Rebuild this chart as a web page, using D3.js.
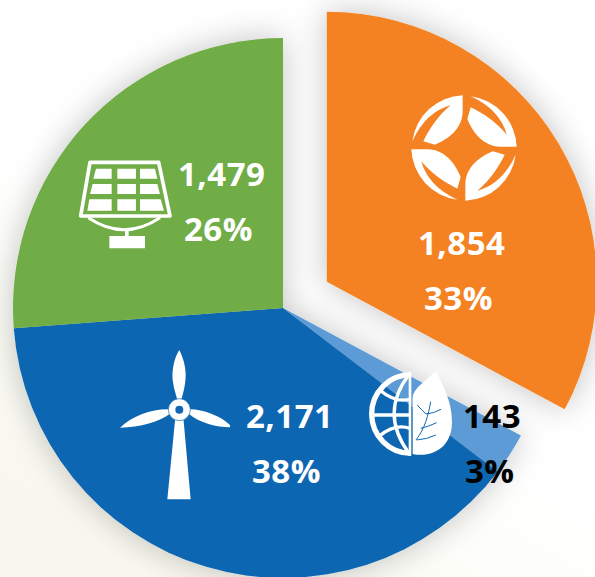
<!DOCTYPE html>
<html>
<head>
<meta charset="utf-8">
<style>html,body{margin:0;padding:0;background:#fff;overflow:hidden}svg{display:block}</style>
<script src="https://cdn.jsdelivr.net/npm/d3@7/dist/d3.min.js"></script>
</head>
<body>
<svg id="c" width="595" height="577"></svg>
<script>
// Data
const categories = ["Other renewables A", "Biomass", "Wind", "Solar"];
const values = [1854, 143, 2171, 1479];
const percents = ["33%", "3%", "38%", "26%"];
const colors = ["#f58220", "#5b9bd5", "#1166b1", "#70ad47"];
const explode = [51, 0, 0, 0];
const labelColors = ["#fff", "#000", "#fff", "#fff"];
const labelX = [418, 463, 246, 178];
const pctX = [424, 465, 252, 184];
const labelY = [255, 428, 428, 186];
const pctY = [310, 483, 483, 241];

const W = 595, H = 577, cx = 283, cy = 308, R = 270;
const svg = d3.select("#c");
const defs = svg.append("defs");

const bg = defs.append("linearGradient").attr("id", "bg")
  .attr("x1", 0.55).attr("y1", 0.6).attr("x2", 0.3).attr("y2", 1);
bg.append("stop").attr("offset", 0).attr("stop-color", "#ffffff");
bg.append("stop").attr("offset", 0.4).attr("stop-color", "#fdfdf9");
bg.append("stop").attr("offset", 1).attr("stop-color", "#f8f8ef");

const f = defs.append("filter").attr("id", "shadow")
  .attr("filterUnits", "userSpaceOnUse")
  .attr("x", -cx - 100).attr("y", -cy - 100).attr("width", W + 200).attr("height", H + 200);
f.append("feGaussianBlur").attr("in", "SourceAlpha").attr("stdDeviation", 16).attr("result", "b");
f.append("feFlood").attr("flood-color", "#000").attr("flood-opacity", 0.24);
f.append("feComposite").attr("in2", "b").attr("operator", "in").attr("result", "s");
const m = f.append("feMerge");
m.append("feMergeNode").attr("in", "s");
m.append("feMergeNode").attr("in", "SourceGraphic");

svg.append("rect").attr("width", W).attr("height", H).attr("fill", "#fff");
svg.append("rect").attr("width", W).attr("height", H).attr("fill", "url(#bg)");

const pie = d3.pie().sort(null)(values);
const arc = d3.arc().innerRadius(0).outerRadius(R);

svg.append("g").attr("filter", "url(#shadow)")
  .attr("transform", `translate(${cx},${cy})`)
  .selectAll("path").data(pie).join("path")
  .attr("d", arc)
  .attr("fill", (d, i) => colors[i])
  .attr("transform", (d, i) => {
    const a = (d.startAngle + d.endAngle) / 2;
    return `translate(${explode[i] * Math.sin(a)},${-explode[i] * Math.cos(a)})`;
  });

// Icons (drawn in crop units, 3 units = 1 px)
const iconOrange = svg.append("g").attr("transform", "translate(464,148) scale(0.3333)");
[0, 90, 180, 270].forEach(r => iconOrange.append("path")
  .attr("transform", `rotate(${r})`).attr("fill", "#fff")
  .attr("d", "M-4,-158 A158,158 0 0 0 -155,-20 Q-115,-108 -40,-128 C-80,-95 -105,-55 -122,-20 L-87,-10 C-50,-25 -5,-55 -4,-110 Z"));

const solar = svg.append("g").attr("transform", "translate(60,140) scale(0.3333)");
solar.append("path").attr("fill", "none").attr("stroke", "#fff").attr("stroke-width", 11).attr("stroke-linejoin", "round")
  .attr("d", "M90,67 L296,67 L330,228 L62,228 Z");
solar.append("path").attr("fill", "#fff").attr("d",
  "M108,86H155V116H100Z M172,86H228V116H172Z M240,86H285L292,116H240Z " +
  "M98,132H155V162H90Z M172,132H228V162H172Z M240,132H292L300,162H240Z " +
  "M88,178H155V212H82Z M172,178H228V212H172Z M240,178H302L312,212H240Z");
solar.append("path").attr("fill", "none").attr("stroke", "#fff").attr("stroke-width", 9)
  .attr("d", "M85,233 Q192,305 300,233");
solar.append("path").attr("fill", "#fff").attr("d", "M195,268H206V290H195Z M148,288H255V325H148Z");

const wind = svg.append("g").attr("transform", "translate(100,340) scale(0.3333)");
wind.append("path").attr("fill", "#fff").attr("d",
  "M226,232 L250,232 L272,478 L202,478 Z " +
  "M238,30 C225,50 215,85 218,120 C222,150 230,170 233,182 L243,182 C250,160 258,130 257,100 C256,70 245,45 238,30 Z " +
  "M264,208 C300,205 360,225 390,255 L390,262 C350,262 300,250 264,220 Z " +
  "M212,208 C160,205 100,225 60,263 C120,263 180,245 212,220 Z");
wind.append("circle").attr("cx", 238).attr("cy", 209).attr("r", 33).attr("fill", "#fff").attr("stroke", "#1166b1").attr("stroke-width", 2);
wind.append("circle").attr("cx", 238).attr("cy", 209).attr("r", 12).attr("fill", "#1166b1");

const leaf = svg.append("g").attr("transform", "translate(360,360) scale(0.3333)");
leaf.append("path").attr("fill", "none").attr("stroke", "#fff").attr("stroke-width", 16).attr("d",
  "M153,44 A118,118 0 0 0 153,280");
leaf.append("path").attr("fill", "#fff").attr("d", "M146,37H154V287H146Z");
leaf.append("path").attr("fill", "none").attr("stroke", "#fff").attr("stroke-width", 10).attr("d",
  "M150,40 Q55,160 150,284 M62,92 Q105,128 150,118 M40,165 H150 M58,228 Q105,190 150,205 M125,48 Q85,50 62,92 M125,275 Q80,265 58,228");
leaf.append("path").attr("fill", "#fff").attr("d",
  "M228,33 C195,65 160,85 158,112 L158,282 C200,292 276,275 276,185 C276,120 245,70 228,33 Z");
leaf.append("path").attr("fill", "none").attr("stroke", "#1166b1").attr("stroke-width", 3).attr("d",
  "M168,240 C195,205 205,165 212,125 M172,135 Q185,150 198,162 M198,162 Q222,160 243,148 M182,205 Q205,200 230,188 M170,240 Q200,238 228,225");

// Labels
const fmt = d3.format(",");
const labels = svg.append("g")
  .attr("font-family", "'Open Sans', 'Noto Sans', sans-serif")
  .attr("font-weight", 700).attr("font-size", 33).attr("letter-spacing", 0.5);
labels.selectAll("text.v").data(values).join("text").attr("class", "v")
  .attr("x", (d, i) => labelX[i]).attr("y", (d, i) => labelY[i])
  .attr("fill", (d, i) => labelColors[i]).text(d => fmt(d));
labels.selectAll("text.p").data(percents).join("text").attr("class", "p")
  .attr("x", (d, i) => pctX[i]).attr("y", (d, i) => pctY[i])
  .attr("fill", (d, i) => labelColors[i]).text(d => d);
</script>
</body>
</html>
